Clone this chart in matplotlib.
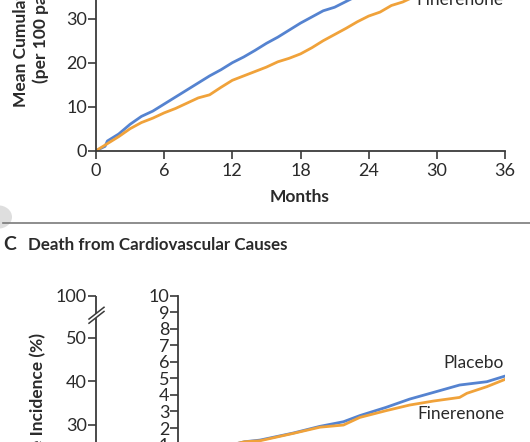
import numpy as np
import matplotlib
matplotlib.use('Agg')
import matplotlib.pyplot as plt
from matplotlib.patches import Circle
from matplotlib.lines import Line2D

# panel B (top) - mean cumulative number of events
months_b = [0, 0.8, 1, 2, 3, 4, 5, 6, 7, 8, 9, 10, 11, 12, 13, 14, 15, 16, 17, 18, 19, 20, 21, 22, 23, 24]
placebo_b = [0, 1.0, 2.2, 3.8, 6.0, 7.8, 9.0, 10.6, 12.2, 13.8, 15.4, 17.0, 18.4, 20.0, 21.3, 22.8, 24.4,
             25.8, 27.4, 29.0, 30.4, 31.8, 32.6, 33.9, 35.2, 36.5]
months_bf = [0, 1, 2, 3, 4, 5, 6, 7, 8, 9, 10, 11, 12, 13, 14, 15, 16, 17, 18, 19, 20, 21, 22, 23, 24, 25,
             26, 27, 28, 29]
finer_b = [0, 1.6, 3.2, 5.0, 6.4, 7.4, 8.6, 9.6, 10.8, 12.0, 12.7, 14.4, 16.0, 17.0, 18.0, 19.0, 20.2, 21.0,
           22.0, 23.4, 25.0, 26.4, 27.8, 29.3, 30.6, 31.5, 33.0, 33.8, 35.0, 36.2]

# panel C - death from cardiovascular causes (inset scale)
months_cp = [0, 2, 4, 6, 7.3, 9, 12.7, 15.6, 18.2, 20, 22.9, 25.5, 28.1, 31, 34, 36]
placebo_c = [0, 0.35, 0.7, 1.0, 1.17, 1.27, 1.7, 2.1, 2.38, 2.75, 3.25, 3.75, 4.15, 4.6, 4.8, 5.14]
months_cf = [0, 2, 4, 6, 7.3, 9, 12.7, 15.6, 18.2, 20, 22.9, 25.5, 28.1, 31, 31.8, 34, 36]
finer_c = [0, 0.35, 0.7, 1.0, 1.17, 1.23, 1.68, 2.05, 2.18, 2.64, 3.05, 3.39, 3.63, 3.85, 4.1, 4.5, 4.94]

main_ticks = [0, 10, 20, 30, 40, 50]
top_tick = 59.6  # position of the "100" tick above the break

blue = '#5583d0'
orange = '#f0a23a'
axcol = '#3a3a3a'
txtcol = '#2a2a2a'

plt.rcParams['font.family'] = ['Lato', 'DejaVu Sans']
plt.rcParams['text.color'] = txtcol
plt.rcParams['axes.edgecolor'] = axcol
plt.rcParams['xtick.color'] = axcol
plt.rcParams['ytick.color'] = axcol
plt.rcParams['xtick.labelcolor'] = txtcol
plt.rcParams['ytick.labelcolor'] = txtcol

W, H = 530, 442
fig = plt.figure(figsize=(W / 100, H / 100), dpi=100)


def rect(x0, y0, x1, y1):
    return [x0 / W, 1 - y1 / H, (x1 - x0) / W, (y1 - y0) / H]


def style(ax):
    for s in ['top', 'right']:
        ax.spines[s].set_visible(False)
    for s in ['left', 'bottom']:
        ax.spines[s].set_linewidth(1.3)
    ax.tick_params(labelsize=13, width=1.2, length=5.5, pad=1)
    ax.tick_params(axis='x', pad=3)


# ---- top panel ----
ax = fig.add_axes(rect(96, 150.7 - 40 * 4.4, 505, 150.7))
ax.plot(months_b, placebo_b, color=blue, lw=2.0)
ax.plot(months_bf, finer_b, color=orange, lw=2.0)
ax.set_xlim(0, 36)
ax.set_ylim(0, 40)
ax.set_xticks(range(0, 37, 6))
ax.set_yticks([0, 10, 20, 30, 40])
style(ax)
ax.text(35.9, 33.2, 'Finerenone', ha='right', va='baseline', fontsize=12.5)
fig.text(300 / W, 1 - 197 / H, 'Months', ha='center', va='center', fontsize=12.5, fontweight='bold')
fig.text(21 / W, 1 - 107 / H, 'Mean Cumulative No. of Events', rotation=90, rotation_mode='anchor',
         ha='left', va='center', fontsize=12.5, fontweight='bold')
fig.text(41 / W, 1 - 83 / H, '(per 100 patients)', rotation=90, rotation_mode='anchor',
         ha='left', va='center', fontsize=12.5, fontweight='bold')

# ---- separator ----
fig.add_artist(Circle((-2 / W, 1 - 217 / H), 14 / W, transform=fig.transFigure,
                      facecolor='#dedede', edgecolor='none'))
fig.add_artist(Line2D([3 / W, 1], [1 - 223 / H, 1 - 223 / H], transform=fig.transFigure,
                      color='#7a7a7a', lw=1.2))

fig.text(3 / W, 1 - 250 / H, 'C', ha='left', va='baseline', fontsize=14, fontweight='bold')
fig.text(28 / W, 1 - 250 / H, 'Death from Cardiovascular Causes', ha='left', va='baseline',
         fontsize=12.2, fontweight='bold')

# ---- panel C main (broken) axis ----
axc = fig.add_axes(rect(96, 295.7, 505, 556))
axc.set_xlim(0, 36)
axc.set_ylim(0, top_tick)
axc.set_yticks(main_ticks + [top_tick])
axc.set_yticklabels([str(t) for t in main_ticks] + ['100'])
axc.set_xticks(range(0, 37, 6))
style(axc)
axc.patch.set_visible(False)
axc.spines['left'].set_bounds(0, 54.3)
ytr = axc.get_yaxis_transform()
axc.plot([0, 0], [55.3, top_tick], color=axcol, lw=1.3, transform=ytr, clip_on=False,
         solid_capstyle='butt')
for off in [0, 0.95]:
    axc.plot([-7 / 409, 8 / 409], [53.3 + off, 56.0 + off], color=axcol, lw=1.1,
             transform=ytr, clip_on=False)
fig.text(38 / W, 1 - 333 / H, 'Cumulative Incidence (%)', rotation=90, rotation_mode='anchor',
         ha='right', va='center', fontsize=12.5, fontweight='bold')

# ---- panel C inset ----
axi = fig.add_axes(rect(178.3, 295.7, 505, 461.1))
axi.patch.set_visible(False)
axi.plot(months_cp, placebo_c, color=blue, lw=2.0)
axi.plot(months_cf, finer_c, color=orange, lw=2.0)
axi.set_xlim(0, 36)
axi.set_ylim(0, 10)
axi.set_yticks(range(0, 11))
axi.set_xticks([])
style(axi)
axi.spines['bottom'].set_visible(False)
axi.text(35.9, 5.6, 'Placebo', ha='right', va='baseline', fontsize=12.5)
axi.text(35.9, 2.55, 'Finerenone', ha='right', va='baseline', fontsize=12.5)

fig.savefig('out.png', dpi=100)
